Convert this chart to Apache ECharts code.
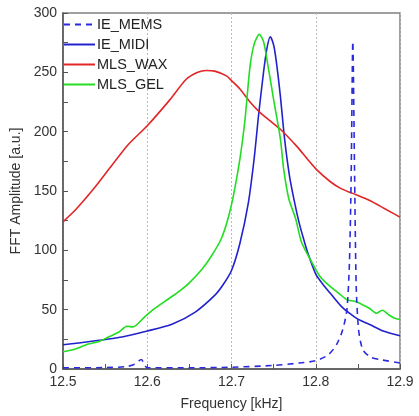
<!DOCTYPE html>
<html><head><meta charset="utf-8">
<script src="https://cdn.jsdelivr.net/npm/echarts@6/dist/echarts.min.js"></script>
<style>html,body{margin:0;padding:0;background:#fff}#c{width:419px;height:416px}</style>
</head><body><div id="c"></div>
<script>
// Frequency [kHz], amplitude [a.u.] pairs
const ieMems = [[12.5,1],[12.55,1.2],[12.575,2],[12.585,4],[12.593,8],[12.597,3],[12.6,1],[12.65,1],[12.7,1.5],[12.75,3],[12.78,5],[12.8,7],[12.815,12],[12.825,21],[12.832,33],[12.837,50],[12.84,90],[12.842,160],[12.844,276],[12.846,170],[12.848,70],[12.851,32],[12.856,16],[12.865,10],[12.876,8],[12.9,5]];
const ieMidi = [[12.5,20.5],[12.53,23],[12.57,27],[12.6,32],[12.63,38],[12.657,48],[12.68,62],[12.69,71],[12.7,83],[12.71,106],[12.72,140],[12.727,178],[12.732,213],[12.738,250],[12.742,270],[12.746,280],[12.75,273],[12.753,260],[12.758,230],[12.763,194],[12.769,162],[12.775,140],[12.78,124],[12.785,111],[12.79,99],[12.8,80],[12.81,70],[12.817,64],[12.83,53],[12.84,47],[12.85,42],[12.864,37.5],[12.88,32],[12.9,28]];
const mlsWax = [[12.5,124],[12.516,135],[12.54,155],[12.576,188],[12.6,205],[12.627,227],[12.646,244],[12.66,250],[12.67,251.5],[12.68,251],[12.694,247],[12.7,243],[12.71,236],[12.722,225],[12.734,216],[12.746,209],[12.758,202],[12.777,188],[12.79,177],[12.801,168],[12.817,158],[12.83,152],[12.844,148],[12.864,142],[12.882,135],[12.9,128]];
const mlsGel = [[12.5,14.5],[12.514,16.6],[12.53,21],[12.542,23],[12.554,27],[12.566,31],[12.576,36],[12.583,35.5],[12.597,44],[12.609,51],[12.625,59],[12.637,65],[12.649,72],[12.665,84],[12.676,95],[12.688,110],[12.696,127],[12.702,145],[12.71,177],[12.716,210],[12.722,255],[12.727,274],[12.733,282],[12.738,276],[12.742,261],[12.75,227],[12.758,194],[12.762,168],[12.768,143.5],[12.776,127],[12.783,107],[12.793,93],[12.805,78],[12.817,69.6],[12.827,64],[12.837,58.4],[12.846,57],[12.856,54],[12.864,51],[12.872,47],[12.879,49.5],[12.886,46],[12.893,43],[12.9,41.7]];
const xTicks = ['12.5','12.6','12.7','12.8','12.9'];
const yTicks = ['0','50','100','150','200','250','300'];

const chart = echarts.init(document.getElementById('c'), null, {renderer:'canvas'});
const font = 'Liberation Sans, Arial, sans-serif';
function mk(name, data, color, dashed){
  return {name, type:'line', data, showSymbol:false, symbol:'none', smooth:0.25,
    lineStyle:{color, width:1.6, type: dashed ? [6,5] : 'solid'}, itemStyle:{color}, z: dashed?5:3, animation:false};
}
chart.setOption({
  animation:false,
  grid:{left:63, right:19, top:13, bottom:44.5, show:true, borderColor:'#808080', borderWidth:1.5, backgroundColor:'transparent'},
  legend:{orient:'vertical', left:63, top:17, itemWidth:31, itemHeight:14, itemGap:5, padding:0,
    itemStyle:{opacity:0, borderWidth:0},
    textStyle:{fontFamily:font, fontSize:14.5, color:'#222', padding:[0,0,0,-3]},
    data:[{name:'IE_MEMS'},{name:'IE_MIDI'},{name:'MLS_WAX'},{name:'MLS_GEL'}]},
  xAxis:{type:'value', min:12.5, max:12.9, interval:0.1, name:'Frequency [kHz]', nameLocation:'middle', nameGap:28,
    nameTextStyle:{fontFamily:font, fontSize:14, color:'#333'},
    axisLine:{lineStyle:{color:'#555', width:1.5}},
    axisTick:{inside:true, length:5, lineStyle:{color:'#555'}},
    minorTick:{show:true, splitNumber:2, length:5, lineStyle:{color:'#555'}},
    axisLabel:{fontFamily:font, fontSize:14, color:'#333', margin:6, formatter:v=>{const s=v.toFixed(1);return xTicks.includes(s)?s:'';}},
    splitLine:{show:true, lineStyle:{color:'#bbb', type:[2,2], width:1}}},
  yAxis:{type:'value', min:0, max:300, interval:50, name:'FFT Amplitude [a.u.]', nameLocation:'middle', nameGap:33,
    nameTextStyle:{fontFamily:font, fontSize:14, color:'#333'},
    axisLine:{show:true, lineStyle:{color:'#555', width:1.5}},
    axisTick:{show:true, inside:true, length:5, lineStyle:{color:'#555'}},
    minorTick:{show:true, splitNumber:2, length:5, lineStyle:{color:'#555'}},
    axisLabel:{fontFamily:font, fontSize:14, color:'#333', margin:6, formatter:v=>{const s=String(Math.round(v));return yTicks.includes(s)?s:'';}},
    splitLine:{show:false}},
  series:[
    mk('IE_MEMS', ieMems, '#2b2bdd', true),
    mk('IE_MIDI', ieMidi, '#2222cc', false),
    mk('MLS_WAX', mlsWax, '#e02626', false),
    mk('MLS_GEL', mlsGel, '#22dd22', false)
  ]
});
</script></body></html>
